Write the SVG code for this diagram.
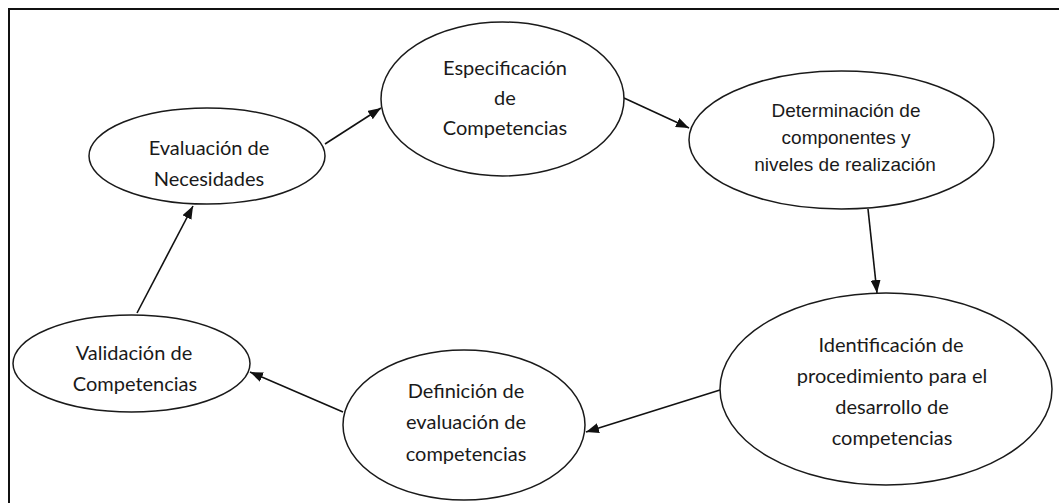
<svg xmlns="http://www.w3.org/2000/svg" width="1059" height="503" viewBox="0 0 1059 503">
<style>
.n ellipse{fill:#fff;stroke:#1a1a1a;stroke-width:1.5}
.t{font-family:Lato,"Open Sans","Liberation Sans",sans-serif;font-size:20px;fill:#1a1a1a;text-anchor:middle}
.a{font-family:"Liberation Sans",Arial,sans-serif;font-size:19px;fill:#1a1a1a;text-anchor:middle}
.c line{stroke:#111;stroke-width:1.6;marker-end:url(#ah)}
</style>
<defs>
<marker id="ah" markerUnits="userSpaceOnUse" markerWidth="13" markerHeight="10" refX="13" refY="5" orient="auto">
<path d="M0,0 L13,5 L0,10 z" fill="#111"/>
</marker>
</defs>
<rect x="0" y="0" width="1059" height="503" fill="#fff"/>
<rect x="9" y="9" width="1070" height="510" fill="none" stroke="#111" stroke-width="2"/>
<g id="connectors" class="c">
<line x1="137" y1="313" x2="193" y2="206"/>
<line x1="325" y1="144" x2="381" y2="108"/>
<line x1="624" y1="98" x2="689" y2="128"/>
<line x1="868" y1="209" x2="877" y2="293"/>
<line x1="720" y1="390" x2="586" y2="432"/>
<line x1="343" y1="412" x2="250" y2="372"/>
</g>
<g id="evaluacion" class="n">
<ellipse cx="207" cy="156" rx="118" ry="48"/>
<text class="t" x="209" y="155">Evaluación de</text>
<text class="t" x="209" y="186">Necesidades</text>
</g>
<g id="especificacion" class="n">
<ellipse cx="502.5" cy="99" rx="121.5" ry="77"/>
<text class="t" x="505" y="75">Especificación</text>
<text class="t" x="505" y="105">de</text>
<text class="t" x="505" y="135">Competencias</text>
</g>
<g id="determinacion" class="n">
<ellipse cx="841.5" cy="140" rx="152.5" ry="69"/>
<text class="a" x="846" y="117">Determinación de</text>
<text class="a" x="846" y="144">componentes y</text>
<text class="a" x="845" y="171">niveles de realización</text>
</g>
<g id="identificacion" class="n">
<ellipse cx="886" cy="389" rx="166" ry="96"/>
<text class="t" x="891" y="352">Identificación de</text>
<text class="t" x="892" y="383">procedimiento para el</text>
<text class="t" x="892" y="414">desarrollo de</text>
<text class="t" x="892" y="445">competencias</text>
</g>
<g id="definicion" class="n">
<ellipse cx="464" cy="425" rx="121" ry="75"/>
<text class="t" x="466" y="398">Definición de</text>
<text class="t" x="466" y="429">evaluación de</text>
<text class="t" x="466" y="461">competencias</text>
</g>
<g id="validacion" class="n">
<ellipse cx="131.5" cy="363.5" rx="118.5" ry="48.5"/>
<text class="t" x="134" y="360">Validación de</text>
<text class="t" x="135" y="391">Competencias</text>
</g>
</svg>
